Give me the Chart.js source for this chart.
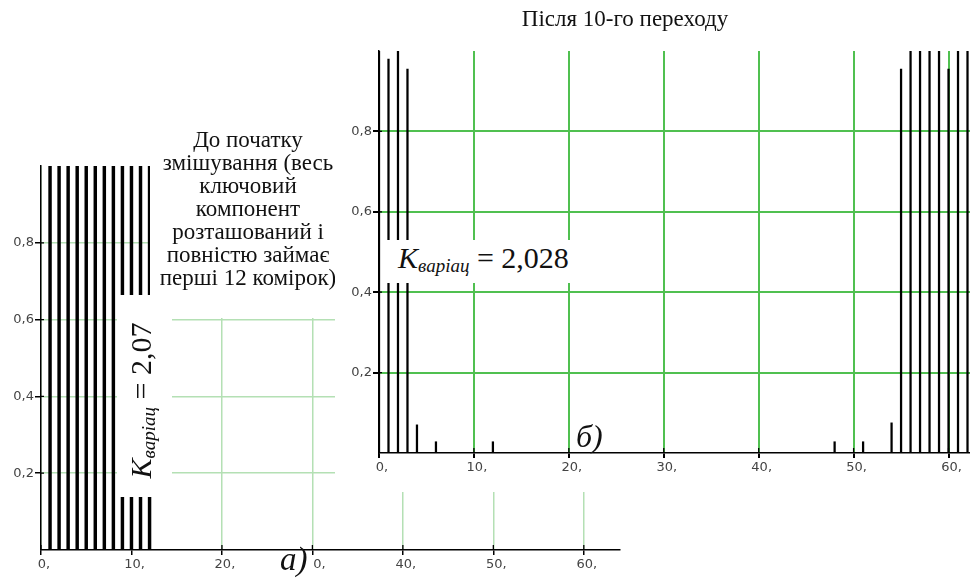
<!DOCTYPE html>
<html>
<head>
<meta charset="utf-8">
<script src="https://cdn.jsdelivr.net/npm/chart.js@4.4.0/dist/chart.umd.min.js"></script>
<style>
  html, body { margin: 0; padding: 0; overflow: hidden; background: #fff; }
  #stage { position: relative; width: 970px; height: 578px; overflow: hidden; }
  .box { position: absolute; background: #fff; }
  .serif { font-family: "Liberation Serif", "Times New Roman", serif; color: #111; }
  .k { font-size: 30px; white-space: nowrap; }
  .k i { font-style: italic; }
  .k sub { font-size: 19px; font-style: italic; vertical-align: -4px; }
</style>
</head>
<body>
<div id="stage">
  <canvas id="chartA" width="970" height="578" style="position:absolute;left:0;top:0"></canvas>

  <div class="box serif" id="titleA" style="left:150px;top:128px;width:196px;height:190px;font-size:23px;line-height:23px;text-align:center">
    До початку<br>змішування (весь<br>ключовий<br>компонент<br>розташований і<br>повністю займає<br>перші 12 комірок)
  </div>

  <div class="box" style="left:117px;top:295px;width:55px;height:202px">
    <div class="serif k" style="position:absolute;left:-78px;top:78px;width:202px;height:55px;line-height:55px;text-align:center;transform:rotate(-90deg)">
      <i>K</i><sub>варіац</sub> = 2,07
    </div>
  </div>

  <div style="position:absolute;left:335px;top:0;width:650px;height:492px;background:#fff">
    <canvas id="chartB" width="650" height="492"></canvas>
  </div>

  <div class="serif" style="position:absolute;left:470px;top:6px;width:310px;text-align:center;font-size:23px">Після 10-го переходу</div>

  <div class="box serif k" style="left:382px;top:240px;width:211px;height:43px;line-height:36px;padding-left:16px;box-sizing:border-box">
    <i>K</i><sub>варіац</sub> = 2,028
  </div>

  <div class="serif" style="position:absolute;left:576px;top:418px;font-size:32px;font-style:italic">б)</div>
  <div style="position:absolute;left:280px;top:555px;width:34px;height:23px;background:#fff;overflow:visible">
    <div class="serif" style="position:absolute;left:0;top:-12px;font-size:33px;line-height:33px;font-style:italic">а)</div>
  </div>
</div>

<script>
// chart a: before mixing
const cellsA = [1, 2, 3, 4, 5, 6, 7, 8, 9, 10, 11, 12];
const valuesA = [1, 1, 1, 1, 1, 1, 1, 1, 1, 1, 1, 1];

// chart b: after the 10th transition
const cellsB = [0, 1, 2, 3, 4, 6, 12, 48, 51, 54, 55, 56, 57, 58, 59, 60, 61, 62];
const valuesB = [1, 0.98, 1, 0.955, 0.07, 0.028, 0.028, 0.028, 0.028, 0.075, 0.955, 1, 1, 1, 1, 0.955, 1, 1];

const xTicks = [0, 10, 20, 30, 40, 50, 60];
const xTickLabels = ['0,', '10,', '20,', '30,', '40,', '50,', '60,'];
const yTicks = [0.2, 0.4, 0.6, 0.8];
const yTickLabels = ['0,2', '0,4', '0,6', '0,8'];

const tickFont = { family: 'DejaVu Sans', size: 13 };

// Mathcad style: tick marks also poke inside the plot
const innerTicks = {
  id: 'innerTicks',
  afterDraw(chart) {
    const { ctx, chartArea, scales } = chart;
    ctx.save();
    ctx.strokeStyle = '#000';
    ctx.lineWidth = 1.3;
    ctx.beginPath();
    scales.x.ticks.forEach(t => {
      const px = scales.x.getPixelForValue(t.value);
      ctx.moveTo(px, chartArea.bottom);
      ctx.lineTo(px, chartArea.bottom - 5);
    });
    scales.y.ticks.forEach(t => {
      const py = scales.y.getPixelForValue(t.value);
      ctx.moveTo(chartArea.left, py);
      ctx.lineTo(chartArea.left + 3, py);
    });
    ctx.stroke();
    ctx.restore();
  }
};

function makeChart(id, cells, values, opts) {
  return new Chart(document.getElementById(id), {
    type: 'bar',
    data: {
      datasets: [{
        data: cells.map((c, i) => ({ x: c, y: values[i] })),
        backgroundColor: '#000',
        borderWidth: 0,
        barThickness: opts.barWidth
      }]
    },
    options: {
      responsive: false,
      animation: false,
      layout: { padding: opts.padding },
      plugins: { legend: { display: false }, tooltip: { enabled: false } },
      scales: {
        x: {
          type: 'linear',
          min: 0,
          max: opts.xMax,
          offset: false,
          afterBuildTicks: s => { s.ticks = xTicks.map(v => ({ value: v })); },
          afterFit: s => { s.height = opts.xHeight; },
          ticks: {
            autoSkip: false, maxRotation: 0, color: '#444', font: tickFont, padding: 2, labelOffset: 3,
            callback: (v, i) => xTickLabels[i]
          },
          grid: { color: opts.gridColor, lineWidth: opts.gridWidth, tickColor: '#000', tickLength: 5, offset: false },
          border: { color: '#000', width: 1.5 }
        },
        y: {
          min: 0,
          max: 1,
          afterBuildTicks: s => { s.ticks = yTicks.map(v => ({ value: v })); },
          afterFit: s => { s.width = opts.yWidth; },
          ticks: {
            color: '#444', font: tickFont, padding: 1,
            callback: (v, i) => yTickLabels[i]
          },
          grid: { color: opts.gridColor, lineWidth: opts.gridWidth, tickColor: '#000', tickLength: 6 },
          border: { color: '#000', width: 1.5 }
        }
      }
    },
    plugins: [innerTicks]
  });
}

makeChart('chartA', cellsA, valuesA, {
  barWidth: 2.8, xMax: 64, xHeight: 28, yWidth: 41,
  padding: { left: 0, top: 166, right: 350, bottom: 0 },
  gridColor: 'rgb(180,224,180)', gridWidth: 1.5
});

makeChart('chartB', cellsB, valuesB, {
  barWidth: 1.6, xMax: 63, xHeight: 39, yWidth: 44,
  padding: { left: 0, top: 51, right: 8, bottom: 0 },
  gridColor: 'rgb(80,192,80)', gridWidth: 2
});
</script>
</body>
</html>
